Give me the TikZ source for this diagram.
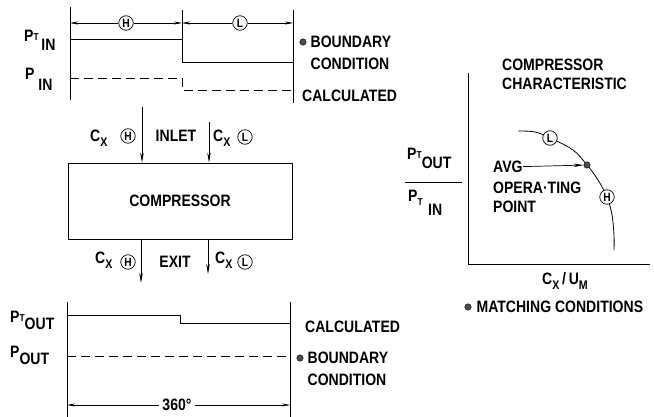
\documentclass[tikz,border=0pt]{standalone}
\usepackage{fontspec}
\setmainfont{Liberation Sans}[FakeStretch=0.85]
\usepackage{tikz}
\usetikzlibrary{arrows.meta,positioning}

\newcommand{\dol}[2]{\raisebox{#1}{#2}}
\newcommand{\maly}[2][0pt]{\raisebox{#1}{\fontsize{12.5}{12}\selectfont #2}}
\newcommand{\mini}[2][0pt]{\raisebox{#1}{\fontsize{10}{10}\selectfont #2}}

\begin{document}
\begin{tikzpicture}[x=1pt, y=-1pt,
	txt/.style={font=\bfseries\fontsize{16.5}{18}\selectfont, inner sep=0pt},
	znak/.style={circle, draw, fill=white, line width=0.7pt, inner sep=0pt, minimum size=14.5pt, font=\bfseries\fontsize{12}{12}\selectfont},
	kropka/.style={circle, draw, fill=gray!60!black, inner sep=0pt, minimum size=6.5pt},
	wym/.style={-{Stealth[length=8pt,width=3pt]}, line width=0.5pt},
	strz/.style={-{Stealth[length=10pt,width=3.5pt]}, line width=0.7pt},
	linia/.style={line width=0.8pt},
	kreski/.style={line width=0.8pt, dash pattern=on 9pt off 5pt}]
	\useasboundingbox (0,0) rectangle (654,417);

	% Wlot
	\coordinate (t1) at (70,7);
	\coordinate (t2) at (182,10);
	\coordinate (t3) at (293,10);
	\draw[linia] (t1) -- (70,100);
	\draw[linia] (t2) -- (182,63);
	\draw[linia] (t3) -- (293,103);
	\node[znak] (hH) at (126,23) {H};
	\node[znak] (hL) at (240,23) {L};
	\draw[wym] (hH) -- (hH -| t1);
	\draw[wym] (hH) -- (hH -| t2);
	\draw[wym] (hL) -- (hL -| t2);
	\draw[wym] (hL) -- (hL -| t3);
	\draw[linia] (70,39) -| (182,62) -- (293,62);
	\draw[kreski] (70,78) -| (182,90) -- (293,90);
	\node[txt, anchor=base west] (ptin) at (24,42) {P\mini[1pt]{T}\,\dol{-9pt}{IN}};
	\node[txt, anchor=base west] (pin) at (25,80) {P\ \dol{-11pt}{IN}};
	\node[kropka] (bc1) at (303,42) {};
	\node[txt, right=4pt of bc1] (bnd1) {BOUNDARY};
	\node[txt, below right=10pt and 0pt of bnd1.south west] (cnd1) {CONDITION};
	\node[txt, anchor=west] (calc1) at (302,96) {CALCULATED};

	% Sprezarka
	\node[draw, linia, txt, minimum width=224pt, minimum height=76pt] (comp) at (180,201) {COMPRESSOR};
	\coordinate (wH) at (142,107);
	\coordinate (wL) at (209,122);
	\draw[strz] (wH) -- (wH |- comp.north);
	\draw[strz] (wL) -- (wL |- comp.north);
	\node[txt, anchor=base west] (cxH1) at (90,142) {C\maly[-5pt]{X}};
	\node[znak] (inH) at (128,136) {H};
	\node[txt] (inlet) at (176,136) {INLET};
	\node[txt, anchor=base west] (cxL1) at (213,142) {C\maly[-5pt]{X}};
	\node[znak] (inL) at (245,137) {L};

	\coordinate (eH) at (141,283);
	\coordinate (eL) at (208,274);
	\draw[strz] (comp.south -| eH) -- (eH);
	\draw[strz] (comp.south -| eL) -- (eL);
	\node[txt, anchor=base west] (cxH2) at (95,264) {C\maly[-5pt]{X}};
	\node[znak] (exH) at (128,262) {H};
	\node[txt] (exit) at (175,262) {EXIT};
	\node[txt, anchor=base west] (cxL2) at (215,264) {C\maly[-5pt]{X}};
	\node[znak] (exL) at (245,262) {L};

	% Wylot
	\coordinate (b1) at (67,302);
	\coordinate (b2) at (290,302);
	\draw[linia] (b1) -- (67,417);
	\draw[linia] (b2) -- (290,417);
	\draw[linia] (67,315) -| (180,323) -- (290,323);
	\draw[kreski] (67,356) -- (290,356);
	\node[txt, fill=white, inner xsep=3pt] (deg) at (177,405) {360°};
	\draw[wym] (deg) -- (deg -| b1);
	\draw[wym] (deg) -- (deg -| b2);
	\node[txt, anchor=base west] (ptout) at (10,322) {P\mini[1pt]{T}\dol{-7pt}{OUT}};
	\node[txt, anchor=base west] (pout) at (10,357) {P\dol{-7pt}{OUT}};
	\node[txt, anchor=west] (calc2) at (305,327) {CALCULATED};
	\node[kropka] (bc2) at (300,358) {};
	\node[txt, right=4pt of bc2] (bnd2) {BOUNDARY};
	\node[txt, below right=10pt and 0pt of bnd2.south west] (cnd2) {CONDITION};

	% Charakterystyka
	\draw[linia] (468,73) |- (650,264);
	\draw[linia] plot[smooth, tension=0.6] coordinates {(518,131) (535,132) (550,138) (573,150) (587,165) (598,180) (607,197) (612,215) (614,235) (614,250)};
	\node[znak] (chL) at (550,138) {L};
	\node[znak] (chH) at (607,197) {H};
	\node[kropka] (avg) at (587,165) {};
	\node[txt, anchor=west] (avgt) at (493,167) {AVG};
	\node[txt, anchor=west] (oper) at (493,188) {OPERA·TING};
	\node[txt, anchor=west] (point) at (493,207) {POINT};
	\draw[strz] (avgt) -- (avg);
	\node[txt, anchor=west] (ch1) at (502,65) {COMPRESSOR};
	\node[txt, anchor=west] (ch2) at (502,84) {CHARACTERISTIC};
	\node[txt, anchor=base west] (num) at (407,160) {P\mini[1pt]{T}\dol{-9pt}{OUT}};
	\draw[linia] (405,182) -- (462,182);
	\node[txt, anchor=base west] (den) at (408,202) {P\mini[-4pt]{T}\,\,\dol{-14pt}{IN}};
	\node[txt] (osx) at (565,281) {C\maly[-5pt]{X}\,/\,U\maly[-5pt]{M}};
	\node[kropka] (mc) at (468,307) {};
	\node[txt, right=5pt of mc] (match) {MATCHING CONDITIONS};
\end{tikzpicture}
\end{document}
